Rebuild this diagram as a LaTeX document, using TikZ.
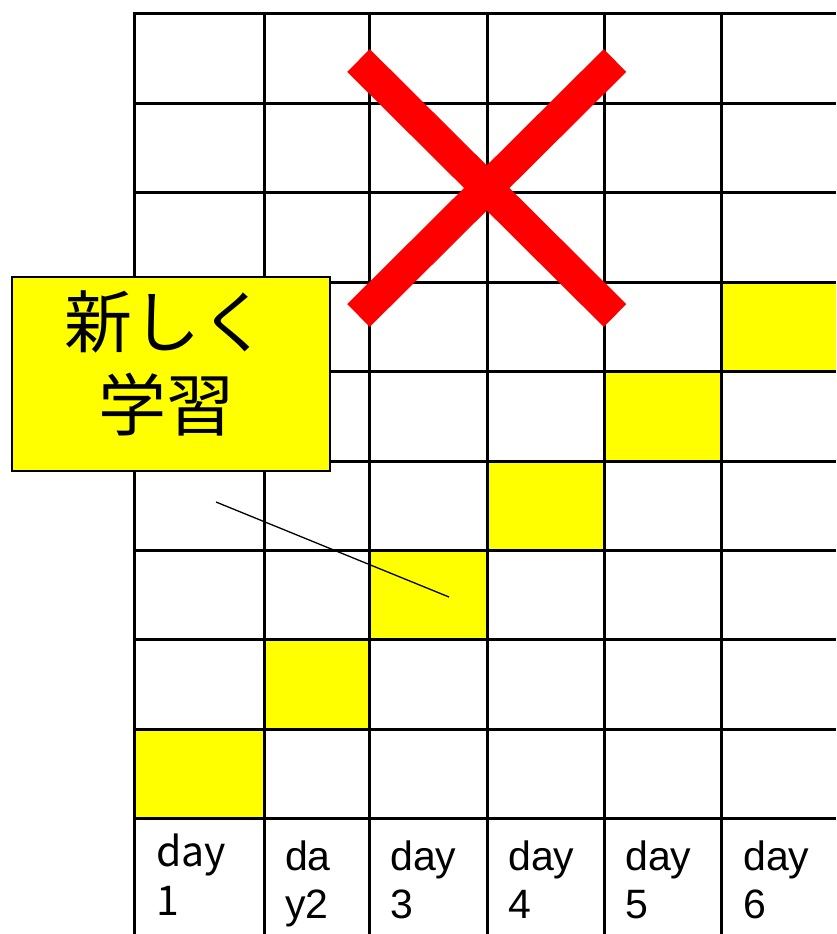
\documentclass[tikz,border=0pt]{standalone}
\usepackage{fontspec}
\setmainfont{Liberation Sans}
\newfontfamily\cjk{Noto Sans CJK JP}
\definecolor{hl}{HTML}{FFFF00}
\definecolor{xred}{HTML}{FF0000}
\begin{document}
\begin{tikzpicture}[x=1pt,y=-1pt,
  gridline/.style={line width=3pt,black},
  hlcell/.style={fill=hl},
  crossbar/.style={line width=32pt,xred,line cap=butt},
  calloutbox/.style={draw=black,line width=1.8pt,fill=hl,minimum width=318pt,minimum height=194pt,inner sep=0pt},
  callouttext/.style={font=\cjk\fontsize{68pt}{83pt}\selectfont,align=center,inner sep=0pt},
  pointer/.style={line width=1.3pt,black},
  daylbl/.style={font=\fontsize{41pt}{48pt}\selectfont,anchor=base west,inner sep=0pt},
  daylblthin/.style={font=\cjk\fontsize{41pt}{48pt}\selectfont,anchor=base west,inner sep=0pt}
]
\useasboundingbox (0,0) rectangle (836,934);
\fill[white] (0,0) rectangle (836,934);
% highlighted cells
\fill[hlcell] (134,729) rectangle (264,818);
\fill[hlcell] (264,639) rectangle (369,729);
\fill[hlcell] (369,550) rectangle (487,639);
\fill[hlcell] (487,461) rectangle (604,550);
\fill[hlcell] (604,371) rectangle (721,461);
\fill[hlcell] (721,282) rectangle (836,371);
% grid
\foreach \x in {134,264,369,487,604,721} \draw[gridline] (\x,14) -- (\x,934);
\foreach \y in {14,103,192,282,371,461,550,639,729,818} \draw[gridline] (132.5,\y) -- (836,\y);
% red cross
\coordinate (xa1) at (358.5,60.5);
\coordinate (xa2) at (615,315.5);
\coordinate (xb1) at (615,60.5);
\coordinate (xb2) at (358.5,315.5);
\draw[crossbar] (xa1) -- (xa2);
\draw[crossbar] (xb1) -- (xb2);
% callout
\node[calloutbox] (callout) at (171,374) {};
\node[callouttext] (calloutlabel) at (166,363) {新しく\\学習};
\coordinate (p1) at (216,502);
\coordinate (p2) at (449,597);
\draw[pointer] (p1) -- (p2);
% day labels
\node[daylblthin] (d1a) at (156,866) {day};
\node[daylblthin] (d1b) at (156,915) {1};
\node[daylbl] (d2a) at (285,870) {da};
\node[daylbl] (d2b) at (285,918) {y2};
\node[daylbl] (d3a) at (390,870) {day};
\node[daylbl] (d3b) at (390,918) {3};
\node[daylbl] (d4a) at (508,870) {day};
\node[daylbl] (d4b) at (508,918) {4};
\node[daylbl] (d5a) at (625,870) {day};
\node[daylbl] (d5b) at (625,918) {5};
\node[daylbl] (d6a) at (743,870) {day};
\node[daylbl] (d6b) at (743,918) {6};
\end{tikzpicture}
\end{document}
